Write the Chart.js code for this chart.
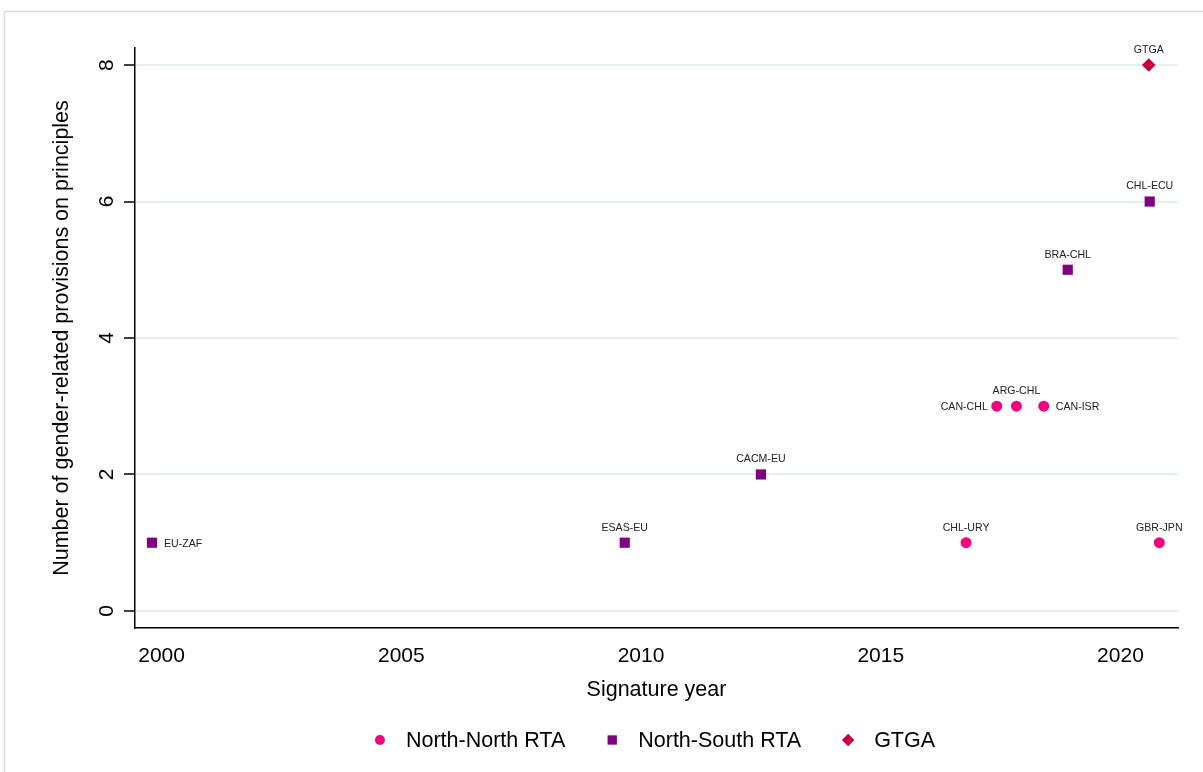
<!DOCTYPE html>
<html>
<head>
<meta charset="utf-8">
<script src="https://cdn.jsdelivr.net/npm/chart.js@4"></script>
<style>
  html, body { margin: 0; padding: 0; background: #fff; }
  #wrap { position: relative; width: 1203px; height: 772px; }
</style>
</head>
<body>
<div id="wrap"><canvas id="rtaChart" width="1203" height="772"></canvas></div>
<script>
// signature year (decimal) and number of provisions
const nnYears  = [2016.78, 2017.42, 2017.83, 2018.40, 2020.81];
const nnValues = [1, 3, 3, 3, 1];
const nnLabels = ['CHL-URY', 'CAN-CHL', 'ARG-CHL', 'CAN-ISR', 'GBR-JPN'];

const nsYears  = [1999.80, 2009.66, 2012.50, 2018.90, 2020.61];
const nsValues = [1, 1, 2, 5, 6];
const nsLabels = ['EU-ZAF', 'ESAS-EU', 'CACM-EU', 'BRA-CHL', 'CHL-ECU'];

const gtYears  = [2020.59];
const gtValues = [8];
const gtLabels = ['GTGA'];

const xTicks = [2000, 2005, 2010, 2015, 2020];
const yTicks = [0, 2, 4, 6, 8];

// where each marker label goes (default is above)
const labelSide = { 'EU-ZAF': 'right', 'CAN-CHL': 'left', 'CAN-ISR': 'right' };

const FONT = 'Arial, "Liberation Sans", Helvetica, sans-serif';

function toPoints(xs, ys, names) {
    return xs.map((x, i) => ({ x: x, y: ys[i], name: names[i] }));
}

// marker labels, rotated y tick labels, legend and outer frame
const extras = {
    id: 'extras',
    afterDatasetsDraw(chart) {
        const ctx = chart.ctx;
        const yScale = chart.scales.y;

        // rotated y tick labels
        ctx.save();
        ctx.fillStyle = '#000';
        ctx.font = '21px ' + FONT;
        ctx.textAlign = 'center';
        ctx.textBaseline = 'middle';
        yTicks.forEach(v => {
            const py = yScale.getPixelForValue(v);
            ctx.save();
            ctx.translate(107, py);
            ctx.rotate(-Math.PI / 2);
            ctx.fillText(String(v), 0, 0);
            ctx.restore();
        });
        ctx.restore();

        // point labels
        ctx.save();
        ctx.font = '10.6px ' + FONT;
        ctx.fillStyle = '#222';
        chart.data.datasets.forEach((ds, di) => {
            const meta = chart.getDatasetMeta(di);
            meta.data.forEach((el, i) => {
                const name = ds.data[i].name;
                const side = labelSide[name] || 'top';
                if (side === 'top') {
                    ctx.textAlign = 'center';
                    ctx.textBaseline = 'middle';
                    ctx.fillText(name, el.x, el.y - 15);
                } else if (side === 'right') {
                    ctx.textAlign = 'left';
                    ctx.textBaseline = 'middle';
                    ctx.fillText(name, el.x + 12, el.y + 1);
                } else {
                    ctx.textAlign = 'right';
                    ctx.textBaseline = 'middle';
                    ctx.fillText(name, el.x - 9, el.y + 1);
                }
            });
        });
        ctx.restore();

        // legend
        ctx.save();
        ctx.font = '21.5px ' + FONT;
        ctx.textBaseline = 'middle';
        ctx.textAlign = 'left';
        const markGap = 26, itemGap = 47;
        const items = chart.data.datasets.map(ds => ({
            ds: ds,
            w: markGap + ctx.measureText(ds.label).width
        }));
        const total = items.reduce((s, it) => s + it.w, 0) + itemGap * (items.length - 1);
        const area = chart.chartArea;
        let cx = (area.left + area.right) / 2 - total / 2 + 1;
        const ly = 740;
        items.forEach(it => {
            const ds = it.ds;
            ctx.fillStyle = ds.backgroundColor;
            Chart.helpers.drawPoint(ctx, {
                pointStyle: ds.pointStyle,
                radius: ds.pointStyle === 'circle' ? 5 : (ds.pointStyle === 'rect' ? 6.6 : 6.2),
                borderWidth: 0,
                rotation: 0
            }, cx, ly);
            ctx.fillStyle = '#000';
            ctx.fillText(ds.label, cx + markGap, ly + 1);
            cx += it.w + itemGap;
        });
        ctx.restore();

        // light outer frame
        ctx.save();
        ctx.strokeStyle = '#dadada';
        ctx.lineWidth = 1.5;
        ctx.strokeRect(4.5, 11.5, 1300, 900);
        ctx.restore();
    }
};

const ctx = document.getElementById('rtaChart').getContext('2d');
const rtaChart = new Chart(ctx, {
    type: 'scatter',
    data: {
        datasets: [{
                label: 'North-North RTA',
                data: toPoints(nnYears, nnValues, nnLabels),
                pointStyle: 'circle',
                pointRadius: 5.5,
                backgroundColor: '#F5007F',
                borderColor: '#F5007F',
                borderWidth: 0
            },
            {
                label: 'North-South RTA',
                data: toPoints(nsYears, nsValues, nsLabels),
                pointStyle: 'rect',
                pointRadius: 7.2,
                backgroundColor: '#800080',
                borderColor: '#800080',
                borderWidth: 0
            },
            {
                label: 'GTGA',
                data: toPoints(gtYears, gtValues, gtLabels),
                pointStyle: 'rectRot',
                pointRadius: 6.8,
                backgroundColor: '#C8003A',
                borderColor: '#C8003A',
                borderWidth: 0
            }
        ]
    },
    options: {
        responsive: false,
        animation: false,
        events: [],
        layout: {
            padding: { left: 0, top: 48, right: 25, bottom: 60 }
        },
        plugins: {
            legend: { display: false },
            tooltip: { enabled: false }
        },
        scales: {
            x: {
                type: 'linear',
                min: 1999.445,
                max: 2021.2,
                afterBuildTicks: scale => {
                    scale.ticks = xTicks.map(v => ({ value: v }));
                },
                afterFit: scale => { scale.height = 84; },
                grid: { display: false },
                border: { display: true, color: '#000', width: 1.5 },
                ticks: {
                    padding: 8,
                    color: '#000',
                    font: { family: FONT, size: 21 },
                    maxRotation: 0,
                    callback: v => String(v)
                },
                title: {
                    display: true,
                    text: 'Signature year',
                    color: '#000',
                    font: { family: FONT, size: 21.5 },
                    padding: { top: 0, bottom: 9 }
                }
            },
            y: {
                type: 'linear',
                min: -0.25,
                max: 8.25,
                afterBuildTicks: scale => {
                    scale.ticks = yTicks.map(v => ({ value: v }));
                },
                afterFit: scale => { scale.width = 135; },
                grid: {
                    color: '#E4EEF0',
                    lineWidth: 2,
                    tickColor: '#000',
                    tickLength: 11,
                    tickWidth: 1.5
                },
                border: { display: true, color: '#000', width: 1.5 },
                ticks: { display: false },
                title: {
                    display: true,
                    text: 'Number of gender-related provisions on principles',
                    color: '#000',
                    font: { family: FONT, size: 21.5 },
                    padding: { top: 49, bottom: 0 }
                }
            }
        }
    },
    plugins: [extras]
});
</script>
</body>
</html>
